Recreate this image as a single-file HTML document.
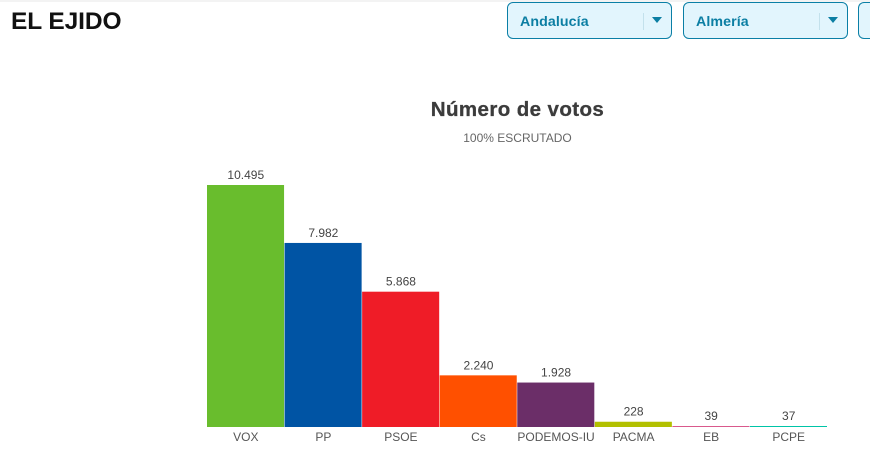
<!DOCTYPE html>
<html lang="es">
<head>
<meta charset="utf-8">
<title>El Ejido</title>
<style>
html,body{margin:0;padding:0;background:#fff;}
body{width:870px;height:463px;overflow:hidden;position:relative;font-family:"Liberation Sans",sans-serif;}
#top-shade{position:absolute;left:0;top:0;width:870px;height:2px;background:#f3f3f3;}
#place-title{position:absolute;left:11px;top:7px;font:bold 24.5px/30px "Liberation Sans",sans-serif;color:#111;letter-spacing:-.1px;white-space:nowrap;}
.select{position:absolute;top:2px;height:37px;box-sizing:border-box;width:165px;background:#e2f5fd;border:1px solid #0a7fa6;border-radius:6px;}
.select .label{position:absolute;left:12px;top:11px;font:bold 14.2px/17px "Liberation Sans",sans-serif;letter-spacing:.1px;color:#0b7ea3;white-space:nowrap;}
.select .sep{position:absolute;left:135px;top:10px;width:1px;height:17px;background:#c3e1ec;}
.select .arrow{position:absolute;left:144px;top:14px;width:0;height:0;border-left:5px solid transparent;border-right:5px solid transparent;border-top:6px solid #0b7ea3;}
.select.cut{width:12px;border-right:none;border-radius:6px 0 0 6px;}
#chart{position:absolute;left:0;top:0;}
</style>
</head>
<body>
<div id="top-shade"></div>
<div id="place-title">EL EJIDO</div>
<div class="select" style="left:507px">
  <span class="label">Andalucía</span>
  <span class="sep"></span>
  <span class="arrow"></span>
</div>
<div class="select" style="left:683px">
  <span class="label">Almería</span>
  <span class="sep"></span>
  <span class="arrow"></span>
</div>
<div class="select cut" style="left:858px"></div>

<svg id="chart" width="870" height="463" xmlns="http://www.w3.org/2000/svg">
  <text x="517.5" y="116" text-anchor="middle" font-family="'Liberation Sans',sans-serif" font-weight="bold" font-size="20.5" fill="#3c3c3c" stroke="#3c3c3c" stroke-width="0.3" letter-spacing="0.4">Número de votos</text>
  <text x="517.5" y="142" text-anchor="middle" font-family="'Liberation Sans',sans-serif" font-size="12" fill="#666">100% ESCRUTADO</text>
  <g id="bars"></g>
</svg>

<script>
const categories = ["VOX", "PP", "PSOE", "Cs", "PODEMOS-IU", "PACMA", "EB", "PCPE"];
const votes = [10495, 7982, 5868, 2240, 1928, 228, 39, 37];
const valueLabels = ["10.495", "7.982", "5.868", "2.240", "1.928", "228", "39", "37"];
const barColors = ["#69bd2d", "#0054a4", "#ef1c27", "#ff5000", "#6b2e68", "#b2c000", "#d9598c", "#00c4a7"];

const svgNS = "http://www.w3.org/2000/svg";
const plotLeft = 207, plotRight = 827.5, plotBase = 427, plotHeight = 242;
const maxVotes = 10495;
const band = (plotRight - plotLeft) / categories.length;
const xAt = i => plotLeft + i * band;
const heightFor = v => Math.max(1, v / maxVotes * plotHeight);
const group = document.getElementById("bars");

categories.forEach((cat, i) => {
  const h = heightFor(votes[i]);
  const rect = document.createElementNS(svgNS, "rect");
  rect.setAttribute("x", xAt(i));
  rect.setAttribute("y", plotBase - h);
  rect.setAttribute("width", band - 0.5);
  rect.setAttribute("height", h);
  rect.setAttribute("fill", barColors[i]);
  
  
  group.appendChild(rect);

  const val = document.createElementNS(svgNS, "text");
  val.setAttribute("x", xAt(i) + band / 2);
  val.setAttribute("y", plotBase - h - 6);
  val.setAttribute("text-anchor", "middle");
  val.setAttribute("font-family", "'Liberation Sans',sans-serif");
  val.setAttribute("font-size", "12");
  val.setAttribute("fill", "#444");
  val.textContent = valueLabels[i];
  
  
  group.appendChild(val);

  const lab = document.createElementNS(svgNS, "text");
  lab.setAttribute("x", xAt(i) + band / 2);
  lab.setAttribute("y", 441);
  lab.setAttribute("text-anchor", "middle");
  lab.setAttribute("font-family", "'Liberation Sans',sans-serif");
  lab.setAttribute("font-size", "12");
  lab.setAttribute("fill", "#555");
  lab.textContent = cat;
  
  
  group.appendChild(lab);
});
</script>
</body>
</html>
